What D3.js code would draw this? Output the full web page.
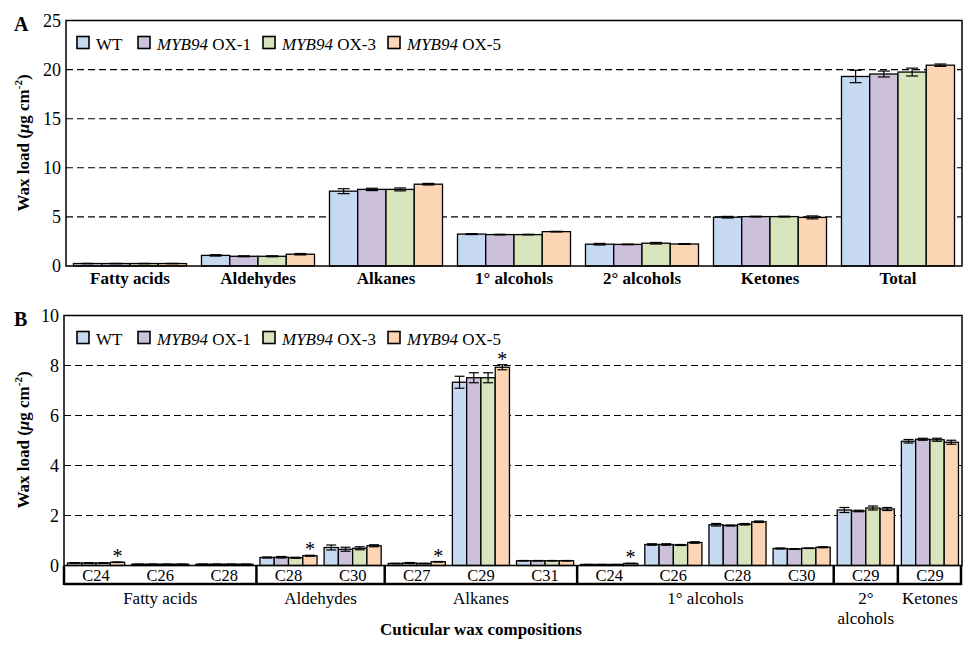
<!DOCTYPE html>
<html><head><meta charset="utf-8">
<script src="https://cdn.jsdelivr.net/npm/d3@7"></script>
<style>body{margin:0;background:#fff}</style>
</head><body>
<svg id="c" width="975" height="649"></svg>
<script>
const seriesNames = ["WT", "OX-1", "OX-3", "OX-5"];
const colors = ["#c6d9f0", "#ccc0da", "#d8e4bc", "#fcd5b4"];

// Panel A
const catsA = ["Fatty acids", "Aldehydes", "Alkanes", "1° alcohols", "2° alcohols", "Ketones", "Total"];
const valsA = [
  [0.25, 0.25, 0.25, 0.25],
  [1.08, 0.99, 0.99, 1.20],
  [7.62, 7.80, 7.80, 8.33],
  [3.25, 3.20, 3.20, 3.50],
  [2.22, 2.20, 2.32, 2.24],
  [4.97, 5.03, 5.03, 4.95],
  [19.30, 19.55, 19.75, 20.45]
];
const errA = [
  [0.02, 0.02, 0.02, 0.02],
  [0.07, 0.05, 0.05, 0.07],
  [0.25, 0.12, 0.15, 0.08],
  [0.05, 0.03, 0.03, 0.03],
  [0.08, 0.03, 0.08, 0.04],
  [0.08, 0.04, 0.04, 0.15],
  [0.63, 0.30, 0.40, 0.12]
];
const ticksA = [0, 5, 10, 15, 20, 25];

// Panel B
const subB = ["C24", "C26", "C28", "C28", "C30", "C27", "C29", "C31", "C24", "C26", "C28", "C30", "C29", "C29"];
const groupsB = [
  {name: ["Fatty acids"], n: 3},
  {name: ["Aldehydes"], n: 2},
  {name: ["Alkanes"], n: 3},
  {name: ["1° alcohols"], n: 4},
  {name: ["2°", "alcohols"], n: 1},
  {name: ["Ketones"], n: 1}
];
const valsB = [
  [0.10, 0.10, 0.10, 0.13],
  [0.05, 0.05, 0.05, 0.05],
  [0.05, 0.05, 0.05, 0.05],
  [0.32, 0.33, 0.31, 0.39],
  [0.72, 0.65, 0.69, 0.79],
  [0.08, 0.10, 0.08, 0.15],
  [7.33, 7.51, 7.51, 7.93],
  [0.19, 0.19, 0.19, 0.19],
  [0.04, 0.04, 0.04, 0.08],
  [0.84, 0.84, 0.82, 0.92],
  [1.63, 1.60, 1.65, 1.75],
  [0.68, 0.66, 0.69, 0.73],
  [2.22, 2.18, 2.30, 2.26],
  [4.97, 5.05, 5.03, 4.93]
];
const errB = [
  [0.01, 0.01, 0.01, 0.01],
  [0.005, 0.005, 0.005, 0.005],
  [0.005, 0.005, 0.005, 0.005],
  [0.02, 0.03, 0.02, 0.02],
  [0.10, 0.08, 0.06, 0.04],
  [0.01, 0.02, 0.01, 0.01],
  [0.24, 0.20, 0.20, 0.10],
  [0.01, 0.01, 0.01, 0.01],
  [0.005, 0.005, 0.005, 0.01],
  [0.03, 0.03, 0.02, 0.03],
  [0.05, 0.02, 0.03, 0.03],
  [0.02, 0.01, 0.01, 0.02],
  [0.10, 0.03, 0.08, 0.06],
  [0.07, 0.04, 0.06, 0.08]
];
const starsB = [0, 3, 5, 6, 8]; // subcategory indexes with * on OX-5
const ticksB = [0, 2, 4, 6, 8, 10];

const svg = d3.select("#c").append("g");

function panel(cfg) {
  const g = svg.append("g");
  const y = d3.scaleLinear().domain([0, cfg.max]).range([cfg.bottom, cfg.top]);
  const x = d3.scaleBand().domain(d3.range(cfg.vals.length)).range([cfg.left, cfg.right])
    .paddingInner(cfg.pad).paddingOuter(cfg.pad / 2);
  const xs = d3.scaleBand().domain(d3.range(4)).range([0, x.bandwidth()]);

  // grid
  g.selectAll(".grid").data(cfg.ticks.filter(t => t > 0 && t < cfg.max)).join("line")
    .attr("x1", cfg.left).attr("x2", cfg.right)
    .attr("y1", d => y(d)).attr("y2", d => y(d))
    .attr("stroke", "#000").attr("stroke-width", 1.1).attr("stroke-dasharray", "7,4");

  // bars
  const grp = g.selectAll(".grp").data(cfg.vals).join("g")
    .attr("transform", (d, i) => `translate(${x(i)},0)`);
  grp.selectAll("rect").data(d => d).join("rect")
    .attr("x", (d, j) => xs(j)).attr("width", xs.bandwidth())
    .attr("y", d => y(d)).attr("height", d => y(0) - y(d))
    .attr("fill", (d, j) => colors[j]).attr("stroke", "#000").attr("stroke-width", 1.3);
  // error bars
  const cw = cfg.cap;
  grp.each(function(d, i) {
    const gg = d3.select(this);
    d.forEach((v, j) => {
      const e = cfg.err[i][j];
      const cx = xs(j) + xs.bandwidth() / 2;
      gg.append("line").attr("x1", cx).attr("x2", cx).attr("y1", y(v - e)).attr("y2", y(v + e))
        .attr("stroke", "#000").attr("stroke-width", 1.2);
      [v - e, v + e].forEach(t => gg.append("line").attr("x1", cx - cw).attr("x2", cx + cw)
        .attr("y1", y(t)).attr("y2", y(t)).attr("stroke", "#000").attr("stroke-width", 1.2));
      if (cfg.stars && cfg.stars.includes(i) && j === 3) {
        gg.append("text").attr("x", cx).attr("y", y(v + e) + 1).attr("text-anchor", "middle")
          .attr("font-size", 20).text("*");
      }
    });
  });

  // frame
  g.append("rect").attr("x", cfg.left).attr("y", cfg.top).attr("width", cfg.right - cfg.left)
    .attr("height", cfg.bottom - cfg.top).attr("fill", "none").attr("stroke", "#000").attr("stroke-width", 1.5);

  // y axis
  const ya = d3.axisLeft(y).tickValues(cfg.ticks).tickSize(0).tickPadding(5);
  const yg = g.append("g").attr("transform", `translate(${cfg.left},0)`).call(ya)
    .attr("font-size", 18);
  yg.select(".domain").remove();
  yg.selectAll("text").attr("fill", "#000");

  // legend
  const legX = [77, 138, 263, 388];
  const lg = g.append("g");
  seriesNames.forEach((s, j) => {
    lg.append("rect").attr("x", legX[j]).attr("y", cfg.top + 16).attr("width", 12).attr("height", 12)
      .attr("fill", colors[j]).attr("stroke", "#000").attr("stroke-width", 1.6);
    const t = lg.append("text").attr("x", legX[j] + 19).attr("y", cfg.top + 29).attr("font-size", 17);
    if (j === 0) t.text(s);
    else {
      t.append("tspan").attr("font-style", "italic").text("MYB94");
      t.append("tspan").text(" " + s);
    }
  });

  // panel letter
  g.append("text").attr("x", 14).attr("y", cfg.top + 10).attr("font-size", 20).attr("font-weight", "bold").text(cfg.letter);

  // y title
  const yt = g.append("text").attr("transform", `translate(29,${cfg.titleY}) rotate(-90)`)
    .attr("text-anchor", "middle").attr("font-size", 17).attr("font-weight", "bold");
  yt.append("tspan").text("Wax load (");
  yt.append("tspan").attr("font-style", "italic").text("μ");
  yt.append("tspan").text("g cm");
  yt.append("tspan").attr("font-size", 11).attr("dy", -7).text("-2");
  yt.append("tspan").attr("dy", 7).text(")");
  return {x, y, g};
}

// Panel A
const pA = panel({vals: valsA, err: errA, max: 25, ticks: ticksA, top: 20.5, bottom: 266, left: 66, right: 962,
  pad: 0.117, cap: 6, letter: "A", titleY: 143});
pA.g.selectAll(".xl").data(catsA).join("text")
  .attr("x", (d, i) => pA.x(i) + pA.x.bandwidth() / 2).attr("y", 284)
  .attr("text-anchor", "middle").attr("font-size", 17).attr("font-weight", "bold").text(d => d);

// Panel B
const pB = panel({vals: valsB, err: errB, max: 10, ticks: ticksB, top: 315.5, bottom: 565.5, left: 64, right: 962,
  pad: 0.11, cap: 5, stars: starsB, letter: "B", titleY: 440});
const gB = pB.g;
const step = pB.x.step();
gB.selectAll(".sl").data(subB).join("text")
  .attr("x", (d, i) => pB.x(i) + pB.x.bandwidth() / 2).attr("y", 580.5)
  .attr("text-anchor", "middle").attr("font-size", 16.5).text(d => d);
// group brackets
let start = 0;
const bounds = [0];
groupsB.forEach(gr => { start += gr.n; bounds.push(start); });
const bx = i => 64 + i * step;
gB.append("line").attr("x1", 64).attr("x2", 962).attr("y1", 584).attr("y2", 584)
  .attr("stroke", "#000").attr("stroke-width", 2.5);
gB.selectAll(".sep").data(bounds).join("line")
  .attr("x1", d => Math.min(bx(d), 961)).attr("x2", d => Math.min(bx(d), 961))
  .attr("y1", 566).attr("y2", 585).attr("stroke", "#000").attr("stroke-width", 2.5);
groupsB.forEach((gr, k) => {
  const cx = (bx(bounds[k]) + bx(bounds[k + 1])) / 2;
  gr.name.forEach((ln, li) => {
    gB.append("text").attr("x", cx).attr("y", 604 + li * 19.5).attr("text-anchor", "middle")
      .attr("font-size", 17).text(ln);
  });
});
gB.append("text").attr("x", 481).attr("y", 635).attr("text-anchor", "middle")
  .attr("font-size", 17).attr("font-weight", "bold").text("Cuticular wax compositions");

// font for all text
d3.selectAll("text").style("font-family", "'Liberation Serif'");
</script>
</body></html>
